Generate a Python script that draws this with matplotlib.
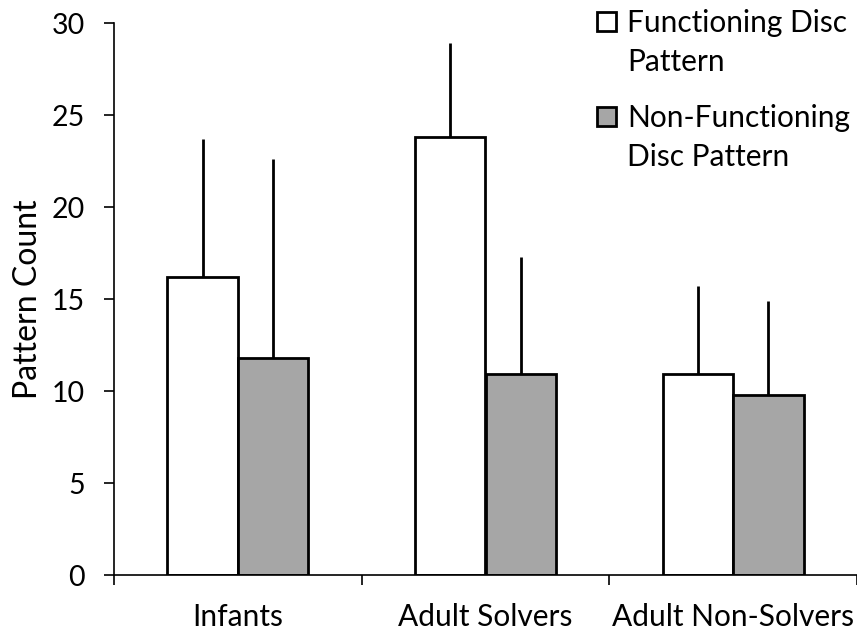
import numpy as np
import matplotlib.pyplot as plt
from matplotlib.patches import Patch

plt.rcParams['font.family'] = ['Lato', 'DejaVu Sans']

groups = ['Infants', 'Adult Solvers', 'Adult Non-Solvers']
functioning = [16.2, 23.8, 10.9]
functioning_err = [7.5, 5.1, 4.8]
non_functioning = [11.8, 10.9, 9.8]
non_functioning_err = [10.8, 6.4, 5.1]

W, H = 857, 634
fig = plt.figure(figsize=(W / 100, H / 100), dpi=100)
ax = fig.add_axes([114 / W, 1 - 575 / H, 743 / W, 552 / H])

x = np.arange(len(groups))
w = 0.285
zeros = [0] * len(groups)
gray = '#a6a6a6'

ax.bar(x - w / 2, functioning, w, color='white', edgecolor='black', linewidth=2,
       yerr=[zeros, functioning_err], error_kw=dict(ecolor='black', elinewidth=2, capsize=0), zorder=2)
ax.bar(x + w / 2, non_functioning, w, color=gray, edgecolor='black', linewidth=2,
       yerr=[zeros, non_functioning_err], error_kw=dict(ecolor='black', elinewidth=2, capsize=0), zorder=2)

ax.set_xlim(-0.5, 2.5)
ax.set_ylim(0, 30)
ax.set_yticks(range(0, 31, 5))
ax.set_xticks(x)
ax.set_xticklabels(groups, fontsize=21.5)
ax.set_xticks([-0.5, 0.5, 1.5, 2.5], minor=True)
ax.tick_params(axis='x', which='major', length=0, pad=20)
ax.tick_params(axis='x', which='minor', length=7, width=1.2, direction='out')
ax.tick_params(axis='y', labelsize=20.5, length=7, width=1.2, direction='out', pad=14)
ax.set_ylabel('Pattern Count', fontsize=23, labelpad=6)

for s in ['top', 'right']:
    ax.spines[s].set_visible(False)
ax.spines['left'].set_linewidth(1.2)
ax.spines['bottom'].set_linewidth(1.2)

blank = Patch(facecolor='none', edgecolor='none')
leg_kw = dict(loc='upper left', frameon=False, fontsize=21.5, handlelength=0.62,
              handleheight=0.62, handletextpad=0.38, labelspacing=0.38,
              borderpad=0, borderaxespad=0, bbox_transform=fig.transFigure)
leg1 = ax.legend([Patch(facecolor='white', edgecolor='black', linewidth=2), blank],
                 ['Functioning Disc', 'Pattern'],
                 bbox_to_anchor=(597 / W, 1 - 9 / H), **leg_kw)
ax.add_artist(leg1)
ax.legend([Patch(facecolor=gray, edgecolor='black', linewidth=2), blank],
          ['Non-Functioning', 'Disc Pattern'],
          bbox_to_anchor=(597 / W, 1 - 104 / H), **leg_kw)

fig.savefig('out.png', dpi=100)
